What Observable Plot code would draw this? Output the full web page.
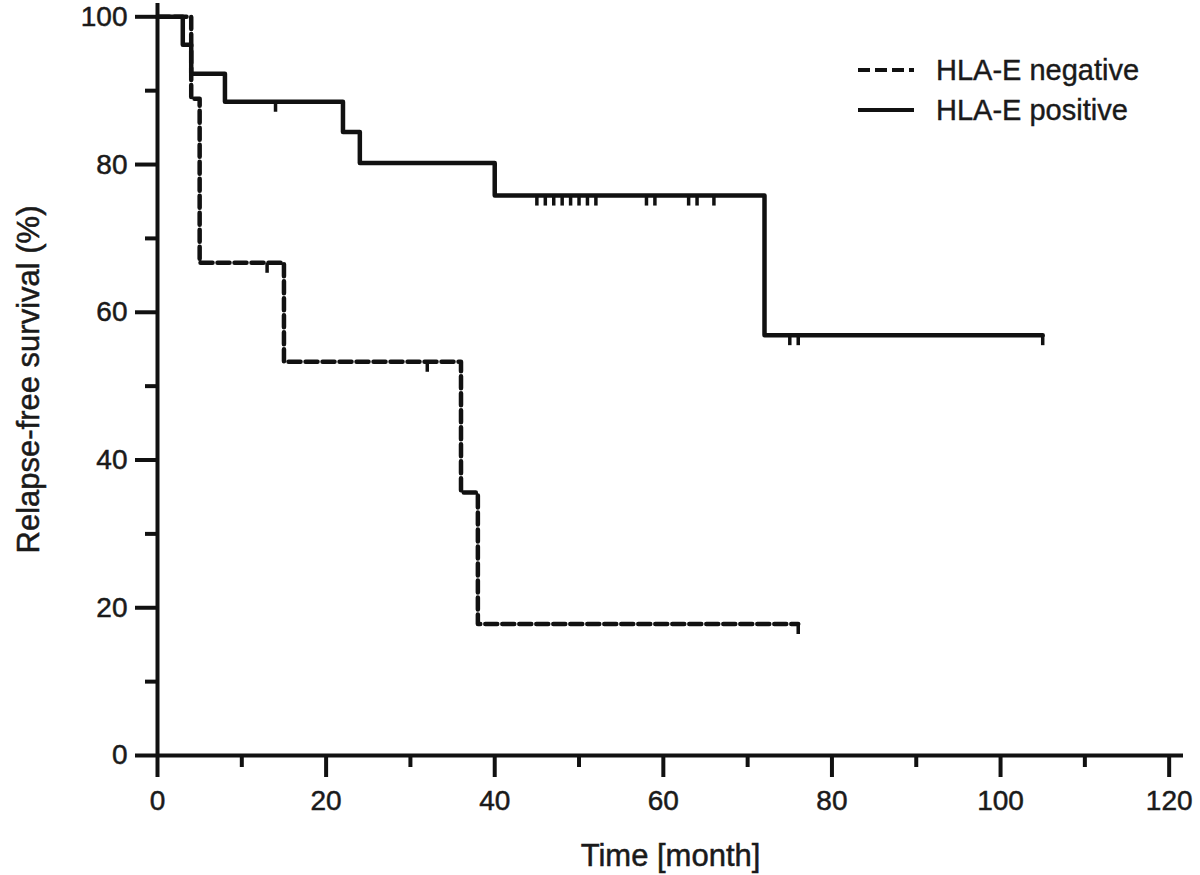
<!DOCTYPE html>
<html><head><meta charset="utf-8">
<script src="https://cdn.jsdelivr.net/npm/d3@7"></script>
<script src="https://cdn.jsdelivr.net/npm/@observablehq/plot@0.6"></script>
<style>
body{margin:0;background:#fff;}
#wrap{position:relative;width:1200px;height:875px;font-family:"Liberation Sans",Arial,sans-serif;color:#1a1a1a;}
#wrap svg text{paint-order:stroke;stroke:#1a1a1a;stroke-width:0.5px;}
#legend{position:absolute;left:858px;top:50px;font-size:29px;-webkit-text-stroke:0.4px #1a1a1a;}
.row{display:flex;align-items:center;height:40px;white-space:nowrap;}
.row svg{margin-right:22px;}
</style></head><body><div id="wrap"><div id="legend"></div></div>
<script>
// Series names
const seriesNames = ["HLA-E negative", "HLA-E positive"];
// HLA-E negative (dashed) Kaplan–Meier steps
const negTime = [0, 4, 5, 15, 36, 38, 76];
const negSurv = [100, 88.9, 66.7, 53.3, 35.6, 17.8, 17.8];
const negCensorTime = [13, 32, 76];
const negCensorSurv = [66.7, 53.3, 17.8];
// HLA-E positive (solid) Kaplan–Meier steps
const posTime = [0, 3, 4, 8, 22, 24, 40, 72, 105];
const posSurv = [100, 96.2, 92.3, 88.5, 84.4, 80.2, 75.8, 56.9, 56.9];
const posCensorTime = [14, 45, 46, 47, 48, 49, 50, 51, 52, 58, 59, 63, 64, 66, 75, 76, 105];
const posCensorSurv = [88.5, 75.8, 75.8, 75.8, 75.8, 75.8, 75.8, 75.8, 75.8, 75.8, 75.8, 75.8, 75.8, 75.8, 56.9, 56.9, 56.9];
// Axis ticks
const xTicks = [0, 20, 40, 60, 80, 100, 120];
const xMinorTicks = [10, 30, 50, 70, 90, 110];
const yTicks = [0, 20, 40, 60, 80, 100];
const yMinorTicks = [10, 30, 50, 70, 90];
const xAxisEnd = 121.7;   // axis line runs slightly past the last tick
const yAxisEnd = 101.8;
const xTitle = "Time [month]";
const yTitle = "Relapse-free survival (%)";

const zip = (t, s) => t.map((d, i) => ({t: d, s: s[i]}));
const neg = zip(negTime, negSurv);
const pos = zip(posTime, posSurv);
const negC = zip(negCensorTime, negCensorSurv);
const posC = zip(posCensorTime, posCensorSurv);

const ink = "#111";
const censorSymbol = {draw(ctx) { ctx.moveTo(0, 0); ctx.lineTo(0, 10); }};

const chart = Plot.plot({
  width: 1200, height: 875,
  marginLeft: 157, marginRight: 17, marginTop: 3, marginBottom: 120,
  x: {domain: [0, xAxisEnd]},
  y: {domain: [0, yAxisEnd]},
  style: {fontFamily: "'Liberation Sans', Arial, sans-serif", fontSize: "28px", color: "#1a1a1a", background: "#fff"},
  marks: [
    Plot.axisX(xMinorTicks, {tickSize: 12, strokeWidth: 4, stroke: ink, tickFormat: () => "", label: null}),
    Plot.axisX(xTicks, {tickSize: 22, strokeWidth: 4, stroke: ink, tickPadding: 13, fontSize: 28, label: null}),
    Plot.axisY(yMinorTicks, {tickSize: 12, strokeWidth: 4, stroke: ink, tickFormat: () => "", label: null}),
    Plot.axisY(yTicks, {tickSize: 22, strokeWidth: 4, stroke: ink, tickPadding: 8, fontSize: 28, label: null}),
    Plot.ruleY([0], {stroke: ink, strokeWidth: 4}),
    Plot.ruleX([0], {stroke: ink, strokeWidth: 4}),
    Plot.line(neg, {x: "t", y: "s", curve: "step-after", stroke: ink, strokeWidth: 4.5, strokeDasharray: "12,5"}),
    Plot.line(pos, {x: "t", y: "s", curve: "step-after", stroke: ink, strokeWidth: 4.5}),
    Plot.dot(negC, {x: "t", y: "s", symbol: censorSymbol, stroke: ink, strokeWidth: 3.5, fill: "none"}),
    Plot.dot(posC, {x: "t", y: "s", symbol: censorSymbol, stroke: ink, strokeWidth: 3.5, fill: "none"}),
    Plot.text([xTitle], {frameAnchor: "bottom", lineAnchor: "bottom", textAnchor: "middle", dy: 110, fontSize: 31, fill: "#1a1a1a"}),
    Plot.text([yTitle], {frameAnchor: "left", lineAnchor: "middle", textAnchor: "middle", rotate: -90, dx: -128, fontSize: 31, fill: "#1a1a1a"})
  ]
});
document.getElementById("wrap").prepend(chart);

// Legend
const legend = document.getElementById("legend");
const dashes = ["12,5", null];
seriesNames.forEach((name, i) => {
  const row = document.createElement("div");
  row.className = "row";
  row.innerHTML = `<svg width="56" height="10"><line x1="0" x2="56" y1="5" y2="5" stroke="${ink}" stroke-width="4" ${dashes[i] ? `stroke-dasharray="${dashes[i]}"` : ""}/></svg><span>${name}</span>`;
  legend.appendChild(row);
});
</script></body></html>
